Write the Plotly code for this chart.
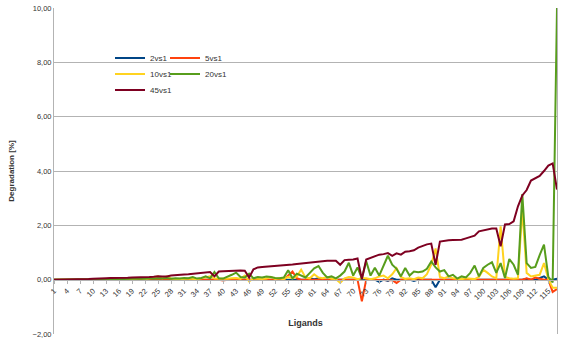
import plotly.graph_objects as go

ligands = list(range(1, 118))
tick_vals = list(range(1, 116, 3))
tick_text = [str(v) for v in tick_vals]

s2vs1 = [0,0,0,0,0,0,0,0,0,0,
         0,0,0,0,0,0,0,0,0,0,
         0,0,0,0,0,0,0,0,0,0,
         0,0,0,0,0,0,0,0,0,0,
         0,0,0,0,0,0,0,0,0,0,
         0,0,0,0,0,0,0,0,0,0.05,
         0.02,0.05,0,0,0,0,0,0,0,0,
         0,0,0.02,0,0,-0.08,0,-0.05,0.05,0,
         0,0,0,-0.05,0,0,0,0,-0.28,0,
         0,0,0,0,0,0,0,0,0,0,
         0,0,0,0,0.02,0,0,0,0,0.03,
         0,0,0.05,0.12,0,0,0.03]

s5vs1 = [0,0,0,0,0,0,0,0,0,0,
         0,0,0,0,0,0,0,0,0,0,
         0,0,0,0,0,0,0,0,0,0,
         0,0,0,0,0,0,0,0,0,-0.03,
         0,0,0,0,0,0,0,0,0,0,
         0,0,0,0,0.15,0.30,0.05,0,0,0,
         0,0,0,0,0,0,0,0,0,0,
         0,-0.80,0,0,0,0,0,0,-0.02,-0.12,
         0,0,0,0,0.05,0,0,0,0,0,
         0,0,0,0,0,0,0,0,0,0.02,
         0,0,0,0,0,0,0,0,0,0.05,
         0,0.08,0.03,0,0,-0.45,-0.35]

s10vs1 = [0,0,0,0,0,0.01,0,0,0.01,0,
          0.01,0,0.01,0.02,0,0.01,0.02,0.01,0.02,0.03,
          0.05,0.02,0.06,0.08,0.12,0.05,0.12,0.04,0.02,0.03,
          0.02,0.04,0.03,0.02,0.05,0.08,0.12,0.04,0.03,0.02,
          0.03,0.05,0.06,0.03,0.15,-0.06,0.05,0.03,0.02,0.04,
          0.10,0.03,0.05,0.02,0.10,0.05,0.12,0.37,0.08,0.05,
          0.20,0.08,0.05,0.10,0.03,0.02,-0.12,0.05,0.10,0.08,
          0.02,0.05,0.05,0.02,0.05,0.12,0.15,0.05,0.20,0.42,
          0.10,0.03,0.05,0.02,0.08,0.05,0.20,0.55,1.15,0.10,
          0.05,0.12,0.05,0.03,0.02,0.05,0.03,0.02,0.10,0.37,
          0.25,0.12,0.05,1.96,0.10,0.05,0.03,0.05,2.60,0.25,
          0.12,0.15,0.18,0.61,0.02,-0.30,-0.30]

s20vs1 = [0,0,0,0.01,0,0.01,0,0.01,0.02,0,
          0.01,0.02,0.01,0.02,0.03,0.01,0.02,0.03,0.02,0.03,
          0.04,0.03,0.05,0.03,0.05,0.04,0.06,0.03,0.05,0.04,
          0.06,0.05,0.10,0.04,0.06,0.12,0.05,0.28,0.05,0.04,
          0.10,0.18,0.26,0.10,0.08,0.22,0.05,0.10,0.08,0.12,
          0.10,0.06,0.05,0.08,0.35,0.05,0.22,0.15,0.08,0.25,
          0.42,0.50,0.25,0.08,0.12,0.05,0.15,0.30,0.62,0.15,
          0.45,0.05,0.68,0.15,0.44,0.15,0.50,0.88,0.55,0.40,
          0.12,0.43,0.15,0.30,0.27,0.30,0.40,0.67,0.45,0.30,
          0.35,0.12,0.18,0.04,0.12,0.08,0.25,0.52,0.12,0.43,
          0.55,0.64,0.25,0.61,0.06,0.76,0.55,0.18,3.15,0.61,
          0.43,0.47,0.90,1.29,0.10,-0.10,10.0]

s45vs1 = [0,0,0,0,0.01,0.01,0.01,0.02,0.02,0.03,
          0.03,0.04,0.05,0.06,0.06,0.05,0.06,0.07,0.08,0.08,
          0.09,0.10,0.10,0.11,0.13,0.12,0.12,0.15,0.17,0.18,
          0.19,0.20,0.22,0.23,0.24,0.26,0.28,0.12,0.30,0.31,
          0.32,0.33,0.34,0.34,0.33,0.08,0.38,0.45,0.47,0.48,
          0.49,0.50,0.51,0.53,0.55,0.56,0.58,0.60,0.61,0.63,
          0.65,0.67,0.68,0.70,0.70,0.70,0.55,0.72,0.73,0.74,
          0.78,0.02,0.74,0.80,0.86,0.92,0.94,0.98,0.88,0.97,
          0.92,1.03,1.05,1.08,1.18,1.25,1.30,1.33,0.55,1.40,
          1.43,1.45,1.46,1.47,1.47,1.52,1.58,1.62,1.78,1.82,
          1.86,1.88,1.88,1.23,2.03,2.05,2.15,2.70,3.10,3.30,
          3.65,3.75,3.82,4.00,4.20,4.28,3.32]

series = [
    ("2vs1", s2vs1, "#004586", "legend"),
    ("5vs1", s5vs1, "#ff420e", "legend2"),
    ("10vs1", s10vs1, "#ffd320", "legend3"),
    ("20vs1", s20vs1, "#579d1c", "legend4"),
    ("45vs1", s45vs1, "#7e0021", "legend5"),
]

FONT = "Liberation Sans, Arial, sans-serif"

fig = go.Figure()
for name, vals, color, lg in series:
    fig.add_trace(go.Scatter(x=ligands, y=vals, name=name, mode="lines",
                             line=dict(color=color, width=2), legend=lg,
                             showlegend=True))

W, H = 574, 347
L, R, T, B = 54, 17, 8, 13
pw = W - L - R
ph = H - T - B

def ly(ypix):
    return 1 - (ypix - T) / ph

def lxp(xpix):
    return (xpix - L) / pw

def leg(xpix, ypix):
    return dict(x=lxp(xpix), y=ly(ypix), orientation="v",
                xanchor="left", yanchor="middle",
                bgcolor="rgba(0,0,0,0)", borderwidth=0,
                font=dict(family=FONT, size=8, color="#333"),
                itemwidth=30)

col1, col2 = 110, 165
fig.update_layout(
    width=W, height=H,
    margin=dict(l=L, r=R, t=T, b=B),
    paper_bgcolor="white", plot_bgcolor="white",
    separators=",.",
    showlegend=True,
    font=dict(family=FONT, size=8, color="#333"),
    legend=leg(col1, 58),
    legend2=leg(col2, 58),
    legend3=leg(col1, 74),
    legend4=leg(col2, 74),
    legend5=leg(col1, 90),
    shapes=[dict(type="rect", xref="paper", yref="paper", layer="between",
                 x0=lxp(125), x1=lxp(225), y0=ly(67), y1=ly(59),
                 fillcolor="white", line=dict(width=0))],
    xaxis=dict(range=[1, 117], anchor="free", position=2/12,
               tickvals=tick_vals, ticktext=tick_text, tickangle=-45,
               tickfont=dict(family=FONT, size=7.5, color="#333"),
               showgrid=False, showline=True, linecolor="#b3b3b3", linewidth=1,
               ticks="outside", ticklen=3, tickcolor="#b3b3b3",
               zeroline=False, automargin=False,
               title=dict(text="<b>Ligands</b>", standoff=18,
                          font=dict(family=FONT, size=9, color="#333"))),
    yaxis=dict(range=[-2, 10], dtick=2, tick0=0, tickformat=".2f",
               tickfont=dict(family=FONT, size=7.5, color="#333"),
               showgrid=True, gridcolor="#b3b3b3", gridwidth=1,
               showline=True, linecolor="#b3b3b3", mirror=True,
               zeroline=False, automargin=False, ticks="",
               title=dict(text="<b>Degradation [%]</b>", standoff=16,
                          font=dict(family=FONT, size=8, color="#333"))),
)

fig.write_html("out.html", config={"displayModeBar": False},
               post_script="document.body.style.margin='0';document.body.style.overflow='hidden';")
